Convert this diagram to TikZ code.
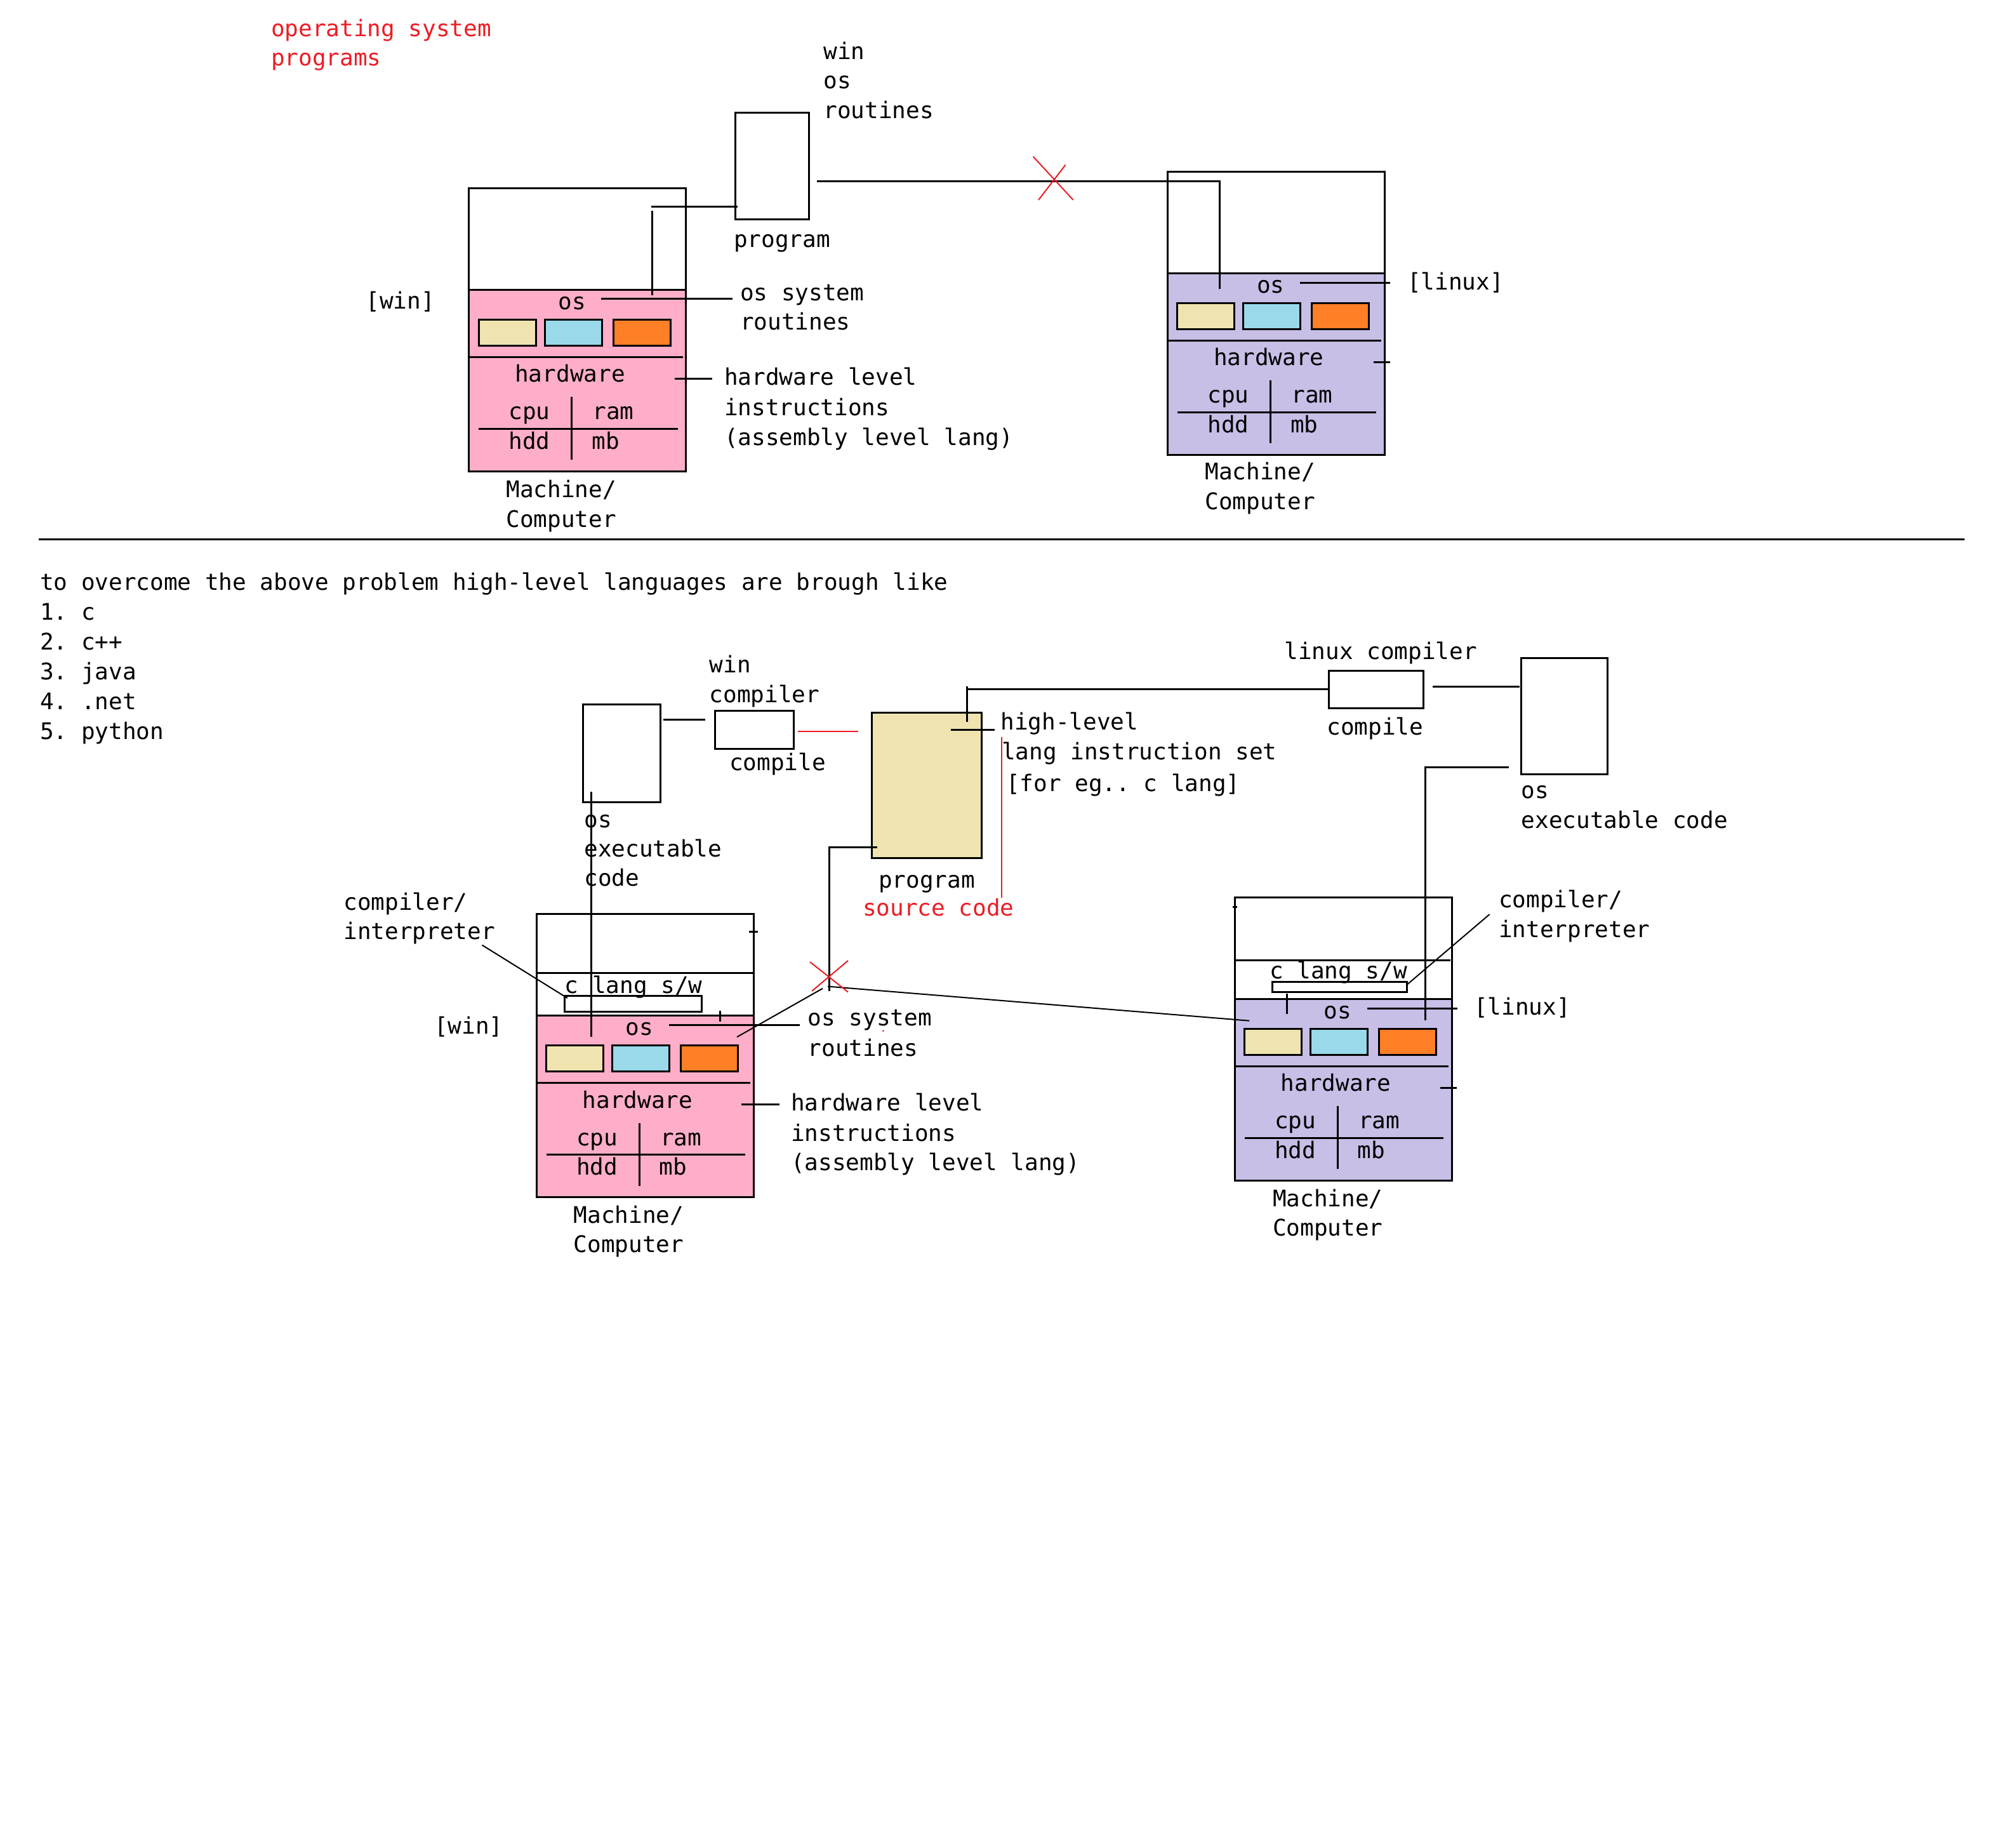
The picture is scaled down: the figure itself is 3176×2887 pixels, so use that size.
\documentclass[tikz,border=0pt]{standalone}
\usepackage{fontspec}
\newfontfamily\dvmono{DejaVu Sans Mono}
\newcommand\labelfont{\dvmono\fontsize{36}{46}\selectfont\frenchspacing}
\definecolor{pred}{HTML}{ED1C24}
\definecolor{cpink}{HTML}{FFAEC9}
\definecolor{clav}{HTML}{C8BFE7}
\definecolor{cwheat}{HTML}{EFE4B0}
\definecolor{cblue}{HTML}{99D9EA}
\definecolor{corange}{HTML}{FF7F27}

% one machine: #1 left x, #2 y of the os line, #3 fill colour, #4 name prefix
\newcommand\machine[4]{%
\begin{scope}[shift={(#1,#2)}]
  \fill[#3] (0,0) rectangle (342,286);
  \draw[ln] (0,-160) rectangle (342,286);
  \draw[ln] (0,0) -- (342,0);
  \draw[ln] (0,106) -- (337,106);
  \node[chip, fill=cwheat,  minimum width=90pt, minimum height=41pt] (#4-c1) at (60.5,67.5) {};
  \node[chip, fill=cblue,   minimum width=90pt, minimum height=41pt] (#4-c2) at (164.5,67.5) {};
  \node[chip, fill=corange, minimum width=90pt, minimum height=41pt] (#4-c3) at (272.5,67.5) {};
  \node[clbl] (#4-os) at (162.5,31) {os};
  \node[clbl] (#4-hw) at (159.5,145.5) {hardware};
  \draw[ln] (162,169) -- (162,268);
  \draw[ln] (15.5,219) -- (329,219);
  \node[clbl] (#4-cpu) at (95.5,204.5) {cpu};
  \node[clbl] (#4-ram) at (227.5,204.5) {ram};
  \node[clbl] (#4-hdd) at (95.5,251) {hdd};
  \node[clbl] (#4-mb)  at (215.5,251) {mb};
\end{scope}}

\begin{document}
\begin{tikzpicture}[x=1pt,y=-1pt,
  ln/.style={line width=3pt},
  hair/.style={line width=2pt},
  redln/.style={line width=2pt,draw=pred},
  chip/.style={draw,line width=3pt,inner sep=0pt,outer sep=0pt},
  box/.style={draw,line width=3pt,inner sep=0pt,outer sep=0pt},
  lbl/.style={anchor=base west,inner sep=0pt,outer sep=0pt,font=\labelfont},
  clbl/.style={anchor=base,inner sep=0pt,outer sep=0pt,font=\labelfont},
  rlbl/.style={lbl,text=pred}]
\useasboundingbox (0,0) rectangle (3176,2887);
\fill[white] (0,0) rectangle (3176,2887);

%% ---------------- upper half ----------------
\node[rlbl] (ttl1) at (427,57.3) {operating system};
\node[rlbl] (ttl2) at (427,103.3) {programs};

% machines
\machine{738.5}{456}{cpink}{mw}
\machine{1839.4}{430.2}{clav}{ml}

\node[lbl] (mw-lab1) at (797.5,783) {Machine/};
\node[lbl] (mw-lab2) at (797.5,830) {Computer};
\node[lbl] (ml-lab1) at (1898.5,755) {Machine/};
\node[lbl] (ml-lab2) at (1898.5,802) {Computer};
\node[lbl] (mw-tag) at (576.5,486.5) {[win]};
\node[lbl] (ml-tag) at (2217,456) {[linux]};

% program box with its labels
\node[box,minimum width=116.5pt,minimum height=167.6pt] (tprog) at (1216.3,261.8) {};
\node[lbl] (tprog-lab) at (1156,389) {program};
\node[lbl] (wr1) at (1297.6,93.5) {win};
\node[lbl] (wr2) at (1297.6,140) {os};
\node[lbl] (wr3) at (1297.6,187) {routines};

% program to win os
\coordinate (tp-a) at (1162,325);
\coordinate (tp-b) at (1026,325);
\draw[ln] (tp-a) -- (tp-b);
\coordinate (tp-c) at (1027.5,332);
\coordinate (tp-d) at (1027.5,465);
\draw[ln] (tp-c) -- (tp-d);

% program to linux os (not possible)
\coordinate (tl-a) at (1287,285);
\coordinate (tl-b) at (1921.5,285);
\coordinate (tl-c) at (1921.5,454.7);
\draw[ln] (tl-a) -- (tl-b) -- (tl-c);
\coordinate (x1a) at (1627.5,246.5);
\coordinate (x1b) at (1690.7,315);
\coordinate (x1c) at (1678.6,259.6);
\coordinate (x1d) at (1636,315);
\draw[redln] (x1a) -- (x1b);
\draw[redln] (x1c) -- (x1d);

% win side callouts
\coordinate (mw-osr) at (947,470.6);
\coordinate (osr-l) at (1154,470.6);
\draw[ln] (mw-osr) -- (osr-l);
\node[lbl] (osr1) at (1166,473) {os system};
\node[lbl] (osr2) at (1166,519.5) {routines};
\coordinate (mw-hwr) at (1062.6,596);
\coordinate (hwl-l) at (1122,596);
\draw[ln] (mw-hwr) -- (hwl-l);
\node[lbl] (hwl1) at (1141,606) {hardware level};
\node[lbl] (hwl2) at (1141,654) {instructions};
\node[lbl] (hwl3) at (1141,701) {(assembly level lang)};

% linux side callouts
\coordinate (ml-osr) at (2048,445.3);
\coordinate (ml-tagl) at (2189.6,445.3);
\draw[ln] (ml-osr) -- (ml-tagl);
\coordinate (ml-hwa) at (2163.7,570);
\coordinate (ml-hwb) at (2189.6,570);
\draw[ln] (ml-hwa) -- (ml-hwb);

% separator
\coordinate (sep-l) at (61,849);
\coordinate (sep-r) at (3095,849);
\draw[ln] (sep-l) -- (sep-r);

%% ---------------- lower half ----------------
\node[lbl] (ov0) at (63,929.3) {to overcome the above problem high-level languages are brough like};
\node[lbl] (ov1) at (63,976.3) {1. c};
\node[lbl] (ov2) at (63,1023) {2. c++};
\node[lbl] (ov3) at (63,1070) {3. java};
\node[lbl] (ov4) at (63,1117) {4. .net};
\node[lbl] (ov5) at (63,1164) {5. python};

% machines
\machine{845}{1599.5}{cpink}{bw}
\machine{1945}{1573.3}{clav}{bl}
\draw[ln] (845,1532) -- (1187,1532);
\draw[ln] (1945,1512.3) -- (2285,1512.3);

\node[lbl] (bw-lab1) at (903.8,1926) {Machine/};
\node[lbl] (bw-lab2) at (903.8,1972.6) {Computer};
\node[lbl] (bl-lab1) at (2005,1900.3) {Machine/};
\node[lbl] (bl-lab2) at (2005,1946.2) {Computer};
\node[lbl] (bw-tag) at (684,1628) {[win]};
\node[lbl] (bl-tag) at (2322,1598.6) {[linux]};

% c language software inside each machine
\node[lbl] (bw-cl) at (889.7,1564.4) {c lang s/w};
\node[box,minimum width=215.6pt,minimum height=25pt] (bw-clbox) at (997.5,1580.5) {};
\node[lbl] (bl-cl) at (2000,1541.7) {c lang s/w};
\node[box,minimum width=212.7pt,minimum height=16.3pt] (bl-clbox) at (2110.4,1554.2) {};
\draw[ln] (1134.3,1592) -- (1134.3,1609);
\draw[ln] (1180,1467.5) -- (1194,1467.5);
\draw[ln] (2027.3,1565) -- (2027.3,1597.3);
\draw[ln] (1942,1428.3) -- (1949,1428.3);

% source program
\node[box,fill=cwheat,minimum width=173pt,minimum height=229.5pt] (bprog) at (1459.5,1236.8) {};
\node[lbl] (bprog-lab) at (1384,1398) {program};
\node[rlbl] (bprog-src) at (1359,1442.6) {source code};
\coordinate (hl-a) at (1498,1149);
\coordinate (hl-b) at (1567,1149);
\draw[ln] (hl-a) -- (hl-b);
\node[lbl] (hl1) at (1576.4,1149.3) {high-level};
\node[lbl] (hl2) at (1578,1196.7) {lang instruction set};
\node[lbl] (hl3) at (1585,1246.5) {[for eg.. c lang]};
\coordinate (rv-a) at (1577.6,1160.5);
\coordinate (rv-b) at (1577.6,1414);
\draw[redln] (rv-a) -- (rv-b);

% windows compiler
\node[box,minimum width=121.9pt,minimum height=154.4pt] (wexe) at (979.7,1186.2) {};
\node[lbl] (wexe1) at (920.4,1303) {os};
\node[lbl] (wexe2) at (920.4,1349.5) {executable};
\node[lbl] (wexe3) at (920.4,1395.4) {code};
\node[box,minimum width=124.4pt,minimum height=59.9pt] (wcomp) at (1188.2,1149.3) {};
\node[lbl] (wcomp1) at (1117.7,1059) {win};
\node[lbl] (wcomp2) at (1117.7,1106) {compiler};
\node[lbl] (wcomp3) at (1149,1213.6) {compile};
\coordinate (we-a) at (1044.8,1133.3);
\coordinate (we-b) at (1111,1133.3);
\draw[ln] (we-a) -- (we-b);
\coordinate (wr-a) at (1257,1151.8);
\coordinate (wr-b) at (1352.4,1151.8);
\draw[redln] (wr-a) -- (wr-b);
\coordinate (wx-a) at (931,1247.4);
\coordinate (wx-b) at (931,1632.6);
\draw[ln] (wx-a) -- (wx-b);

% linux compiler
\node[box,minimum width=149.3pt,minimum height=59.3pt] (lcomp) at (2168,1086.2) {};
\node[lbl] (lcomp1) at (2023.4,1038.7) {linux compiler};
\node[lbl] (lcomp2) at (2090.4,1157.3) {compile};
\node[box,minimum width=135.8pt,minimum height=183.2pt] (lexe) at (2464.6,1127.6) {};
\node[lbl] (lexe1) at (2396.7,1257.4) {os};
\node[lbl] (lexe2) at (2396.7,1304) {executable code};
\coordinate (lp-a) at (1523.2,1137.3);
\coordinate (lp-b) at (1523.2,1080.7);
\draw[ln] (lp-a) -- (lp-b);
\coordinate (lp-c) at (1523.2,1085);
\coordinate (lp-d) at (2093,1085);
\draw[ln] (lp-c) -- (lp-d);
\coordinate (lc-a) at (2257,1081.4);
\coordinate (lc-b) at (2393.8,1081.4);
\draw[ln] (lc-a) -- (lc-b);
\coordinate (lx-a) at (2376.5,1208.3);
\coordinate (lx-b) at (2245,1208.3);
\coordinate (lx-c) at (2245,1606.7);
\draw[ln] (lx-a) -- (lx-b) -- (lx-c);

% direct route from the program to the os (crossed out)
\coordinate (dp-a) at (1381.5,1334.8);
\coordinate (dp-b) at (1306,1334.8);
\coordinate (dp-c) at (1306,1561);
\draw[ln] (dp-a) -- (dp-b) -- (dp-c);
\coordinate (dx-l) at (1304,1553.6);
\coordinate (bl-osin) at (1968.3,1607.7);
\draw[hair] (dx-l) -- (bl-osin);
\coordinate (dx-w) at (1296,1556.8);
\coordinate (bw-osin) at (1161,1633.3);
\draw[hair] (dx-w) -- (bw-osin);
\coordinate (x2a) at (1276,1515);
\coordinate (x2b) at (1336,1562.5);
\coordinate (x2c) at (1336,1513);
\coordinate (x2d) at (1279,1561);
\draw[redln] (x2a) -- (x2b);
\draw[redln] (x2c) -- (x2d);

% win machine callouts
\node[lbl] (ci1) at (541.5,1433.7) {compiler/};
\node[lbl] (ci2) at (541.5,1479.6) {interpreter};
\coordinate (ci-a) at (759.5,1488.5);
\coordinate (ci-b) at (893.9,1572);
\draw[hair] (ci-a) -- (ci-b);
\coordinate (bw-osr) at (1054,1614);
\coordinate (bosr-l) at (1259.5,1614);
\draw[ln] (bw-osr) -- (bosr-l);
\node[lbl] (bosr1) at (1272.8,1615.4) {os system};
\node[lbl] (bosr2) at (1272.8,1663.3) {routines};
\fill[pred] (1391.4,1623.7) circle (1.5pt);
\coordinate (bw-hwr) at (1168,1739.8);
\coordinate (bhwl-l) at (1228,1739.8);
\draw[ln] (bw-hwr) -- (bhwl-l);
\node[lbl] (bhwl1) at (1246,1749.4) {hardware level};
\node[lbl] (bhwl2) at (1246,1797.2) {instructions};
\node[lbl] (bhwl3) at (1246,1843) {(assembly level lang)};

% linux machine callouts
\node[lbl] (lci1) at (2361,1429.6) {compiler/};
\node[lbl] (lci2) at (2361,1476.2) {interpreter};
\coordinate (lci-a) at (2216.7,1550.7);
\coordinate (lci-b) at (2346.7,1440);
\draw[hair] (lci-a) -- (lci-b);
\coordinate (bl-osr) at (2154.3,1588.3);
\coordinate (bl-tagl) at (2295.7,1588.3);
\draw[ln] (bl-osr) -- (bl-tagl);
\coordinate (bl-hwa) at (2269.4,1713.4);
\coordinate (bl-hwb) at (2295,1713.4);
\draw[ln] (bl-hwa) -- (bl-hwb);
\end{tikzpicture}
\end{document}
